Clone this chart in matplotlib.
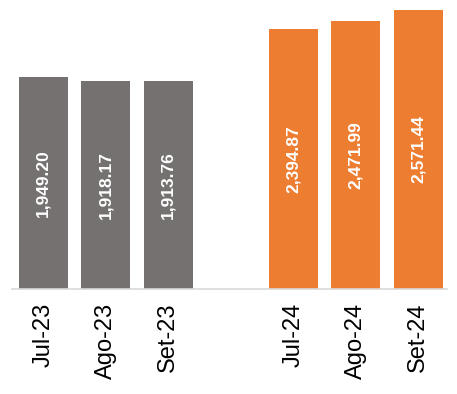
import matplotlib
matplotlib.use("Agg")
import matplotlib.pyplot as plt

# data
periods = ["Jul-23", "Ago-23", "Set-23", "", "Jul-24", "Ago-24", "Set-24"]
values_2023 = [1949.20, 1918.17, 1913.76]
values_2024 = [2394.87, 2471.99, 2571.44]

GRAY = "#767171"
ORANGE = "#ED7D31"

fig = plt.figure(figsize=(4.57, 3.94), dpi=100, facecolor="white")
ax = fig.add_axes([0.026, 0.2665, 0.952, 0.7335])

x23 = [0, 1, 2]
x24 = [4, 5, 6]
b1 = ax.bar(x23, values_2023, width=0.78, color=GRAY)
b2 = ax.bar(x24, values_2024, width=0.78, color=ORANGE)

for bars in (b1, b2):
    ax.bar_label(bars, labels=[f"{v:,.2f}" for v in bars.datavalues],
                 label_type="center", rotation=90, color="white",
                 fontsize=12.5, fontweight="bold", family="Liberation Sans")

ax.set_xlim(-0.5, 6.46)
ax.set_ylim(0, 2663)
ax.set_xticks(range(len(periods)))
ax.set_xticklabels(periods, rotation=90, fontsize=17, family="Liberation Sans",
                   va="top", ha="center")
ax.tick_params(axis="x", length=0, pad=10)
ax.set_yticks([])
for s in ("top", "right", "left"):
    ax.spines[s].set_visible(False)
ax.spines["bottom"].set_color("#D9D9D9")
ax.spines["bottom"].set_linewidth(1.2)

fig.savefig("out.png", dpi=100, facecolor="white")
